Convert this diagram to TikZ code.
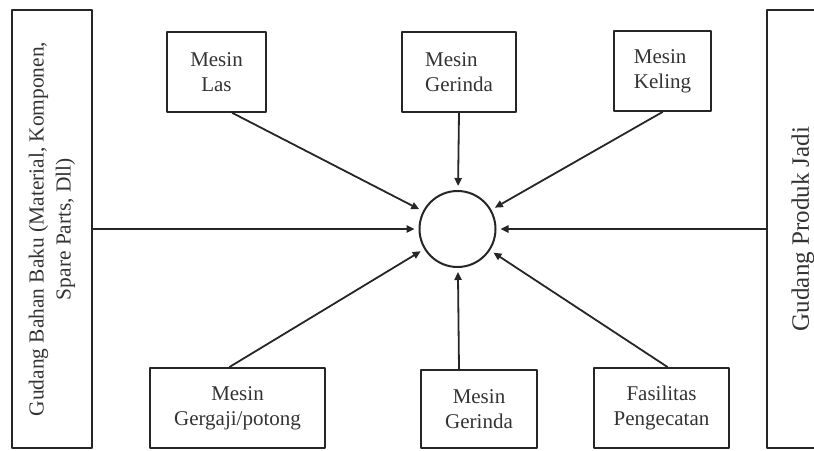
\documentclass[tikz,border=0pt]{standalone}
\usepackage{fontspec}
\setmainfont{Liberation Serif}
\usepackage{tikz}
\tikzset{>=latex}
\usetikzlibrary{shapes,arrows,arrows.meta}

\begin{document}
\begin{tikzpicture}[line cap=round,line join=round,>={Triangle[length=4pt,width=3.6pt]},x=0.5pt,y=-0.5pt,
    kotak/.style={draw=black!85,line width=1pt,inner sep=0pt,align=center,text=black!80,font=\fontsize{10.5}{12.5}\selectfont},
    gudang/.style={kotak,rotate=90,minimum width=219pt},
    alur/.style={->,draw=black!85,line width=0.9pt,shorten >=2pt}]
			\useasboundingbox (0,0) rectangle (814,450);
			% gudang kiri dan kanan
			\node[gudang,minimum height=40pt,font=\fontsize{10.7}{13.5}\selectfont] (bahanbaku) at (52,229) {Gudang Bahan Baku (Material, Komponen,\\Spare Parts, Dll)};
			\node[gudang,minimum height=36pt,font=\fontsize{12.5}{15}\selectfont] (produkjadi) at (803,229) {Gudang Produk Jadi};
			% pusat
			\node[draw=black!85,line width=1pt,circle,minimum size=38pt,inner sep=0pt] (pusat) at (457.5,229) {};
			% mesin atas
			\node[kotak,minimum width=49.5pt,minimum height=40pt] (las) at (216.5,72) {Mesin\\Las};
			\node[kotak,align=left,minimum width=57pt,minimum height=40pt] (gerindaatas) at (459,72) {Mesin\\Gerinda};
			\node[kotak,align=left,minimum width=48.5pt,minimum height=40pt] (keling) at (662.5,71) {Mesin\\Keling};
			% mesin bawah
			\node[kotak,minimum width=87.5pt,minimum height=40pt] (gergaji) at (237.5,408) {Mesin\\Gergaji/potong};
			\node[kotak,minimum width=58pt,minimum height=39pt] (gerindabawah) at (479,409) {Mesin\\Gerinda};
			\node[kotak,minimum width=67.5pt,minimum height=40pt] (fasilitas) at (661.5,408) {Fasilitas\\Pengecatan};
			% alur ke pusat
			\draw[alur] (bahanbaku) -- (pusat);
			\draw[alur] (produkjadi) -- (pusat);
			\draw[alur] ([xshift=8pt]las.south) -- (pusat);
			\draw[alur] (gerindaatas.south) -- (pusat);
			\draw[alur] (keling.south) -- (pusat);
			\draw[alur] ([xshift=-4pt]gergaji.north) -- (pusat);
			\draw[alur] ([xshift=-10pt]gerindabawah.north) -- (pusat);
			\draw[alur] ([xshift=3pt]fasilitas.north) -- (pusat);
			\end{tikzpicture}
\end{document}
